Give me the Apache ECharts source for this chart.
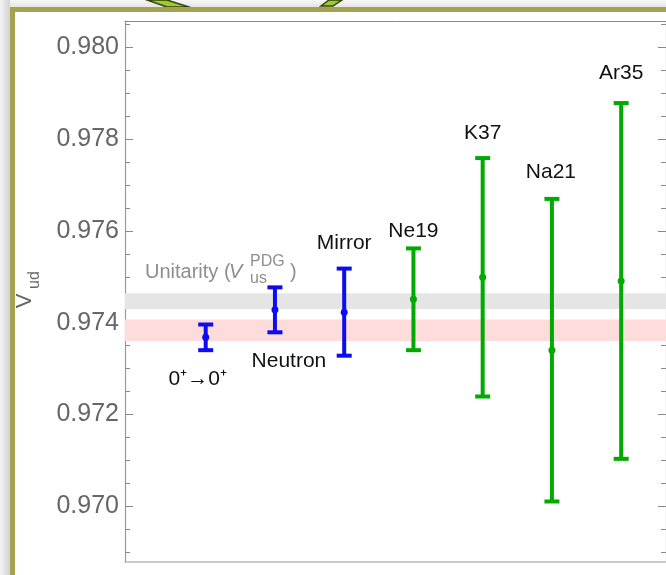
<!DOCTYPE html>
<html><head><meta charset="utf-8">
<script src="https://cdn.jsdelivr.net/npm/echarts@6/dist/echarts.min.js"></script>
<style>html,body{margin:0;padding:0;background:#fff;}#chart{width:666px;height:575px;}</style>
</head><body><div id="chart"></div>
<script>
// ---- data ----
const categories = ['0\u207A\u21920\u207A', 'Neutron', 'Mirror', 'Ne19', 'K37', 'Na21', 'Ar35'];
const vudCentral = [0.97368, 0.97428, 0.97423, 0.97451, 0.97499, 0.97340, 0.97491];
const vudError   = [0.00028, 0.00049, 0.00095, 0.00111, 0.00260, 0.00330, 0.00388];
const groupKind  = ['main', 'main', 'main', 'mirror', 'mirror', 'mirror', 'mirror'];
const unitarityBand   = [0.97430, 0.97464];
const superallowedBand = [0.97360, 0.97407];
const majorTicks = [0.970, 0.972, 0.974, 0.976, 0.978, 0.980];
const minorTicks = [0.969, 0.9695, 0.9705, 0.971, 0.9715, 0.9725, 0.973, 0.9735, 0.9745, 0.975, 0.9755,
                    0.9765, 0.977, 0.9775, 0.9785, 0.979, 0.9795, 0.9805];

// ---- layout / style ----
const FONT = '"Liberation Sans", Arial, Helvetica, sans-serif';
const YMIN = 0.96878, YMAX = 0.98058;
const XMIN = -0.1655, XMAX = 7.6475;
const kindColor = { main: '#0c0cf2', mirror: '#00aa00' };
// label offsets [dx, dy, anchor] relative to whisker end
const labelOffsets = [[-8, 29, 'bottom'], [14, 29, 'bottom'], [0, -25, 'top'], [0, -17, 'top'],
                      [0, -25, 'top'], [-1, -27, 'top'], [0, -30, 'top']];

const chart = echarts.init(document.getElementById('chart'), null, { renderer: 'canvas' });

function renderErrorBar(params, api) {
  const i = params.dataIndex;
  const x = api.value(0), c = api.value(1), e = api.value(2);
  const pTop = api.coord([x, c + e]);
  const pBot = api.coord([x, c - e]);
  const pMid = api.coord([x, c]);
  const color = kindColor[groupKind[i]];
  const capHalf = 7.5;
  const off = labelOffsets[i];
  const anchor = off[2] === 'bottom' ? pBot : pTop;
  return {
    type: 'group',
    children: [
      { type: 'line', shape: { x1: pTop[0], y1: pTop[1], x2: pBot[0], y2: pBot[1] }, style: { stroke: color, lineWidth: 4 } },
      { type: 'line', shape: { x1: pTop[0] - capHalf, y1: pTop[1], x2: pTop[0] + capHalf, y2: pTop[1] }, style: { stroke: color, lineWidth: 4 } },
      { type: 'line', shape: { x1: pBot[0] - capHalf, y1: pBot[1], x2: pBot[0] + capHalf, y2: pBot[1] }, style: { stroke: color, lineWidth: 4 } },
      { type: 'circle', shape: { cx: pMid[0], cy: pMid[1], r: 3.5 }, style: { fill: color } },
      { type: 'text', x: anchor[0] + off[0], y: anchor[1] + off[1],
        style: { text: categories[i], font: '21px ' + FONT, fill: '#111', align: 'center', verticalAlign: 'middle' } }
    ]
  };
}

function renderBand(params, api) {
  const cs = params.coordSys;
  const lo = api.value(0), hi = api.value(1);
  const pHi = api.coord([XMIN, hi]);
  const pLo = api.coord([XMIN, lo]);
  const fills = ['#e5e5e5', '#ffdcdc'];
  return { type: 'rect', shape: { x: cs.x, y: pHi[1], width: cs.width, height: pLo[1] - pHi[1] },
           style: { fill: fills[params.dataIndex] } };
}

function yAxisDef(position, values, len, withLabel, withLine) {
  return {
    type: 'value', min: YMIN, max: YMAX, position: position,
    axisLine: { show: withLine, onZero: false, lineStyle: { color: '#999', width: 1.2 } },
    axisTick: { show: true, inside: true, length: len, customValues: values, lineStyle: { color: '#888', width: 1 } },
    axisLabel: withLabel ? { show: true, customValues: values, formatter: v => v.toFixed(3),
                             fontSize: 25, color: '#666', margin: 6, fontFamily: FONT } : { show: false },
    splitLine: { show: false }
  };
}

const grayText = '#8e8e8e';
const option = {
  animation: false,
  backgroundColor: '#fff',
  grid: { left: 125, top: 21, width: 543, height: 541, containLabel: false },
  xAxis: [
    { type: 'value', min: XMIN, max: XMAX, position: 'bottom',
      axisLine: { show: true, onZero: false, lineStyle: { color: '#bbb', width: 1.5 } },
      axisTick: { show: false }, axisLabel: { show: false }, splitLine: { show: false } },
    { type: 'value', min: XMIN, max: XMAX, position: 'top',
      axisLine: { show: true, onZero: false, lineStyle: { color: '#888', width: 1 } },
      axisTick: { show: false }, axisLabel: { show: false }, splitLine: { show: false } }
  ],
  yAxis: [
    yAxisDef('left', majorTicks, 8, true, true),
    yAxisDef('left', minorTicks, 5, false, false),
    yAxisDef('right', majorTicks, 8, false, true),
    yAxisDef('right', minorTicks, 5, false, false)
  ],
  series: [
    { type: 'custom', name: 'bands', xAxisIndex: 0, yAxisIndex: 0, z: 1, silent: true,
      renderItem: renderBand, data: [unitarityBand, superallowedBand], clip: true },
    { type: 'custom', name: 'Vud', xAxisIndex: 0, yAxisIndex: 0, z: 5,
      renderItem: renderErrorBar, clip: false,
      data: vudCentral.map((c, i) => [i + 1, c, vudError[i]]) }
  ],
  graphic: [
    // slide background edges
    { type: 'rect', shape: { x: 0, y: 0, width: 666, height: 7 },
      style: { fill: new echarts.graphic.LinearGradient(0, 0, 0, 1, [{ offset: 0, color: '#f7f7f7' }, { offset: 1, color: '#e4e4e4' }]) } },
    { type: 'rect', shape: { x: 0, y: 0, width: 10, height: 575 },
      style: { fill: new echarts.graphic.LinearGradient(0, 0, 1, 0, [{ offset: 0, color: '#f4f4f4' }, { offset: 1, color: '#d2d2d2' }]) } },
    // visible pieces of the green ring decoration behind the panel
    { type: 'polygon', shape: { points: [[147, 0], [167, 0], [189, 7], [167, 7]] },
      style: { fill: '#9dcb2c', stroke: '#34420e', lineWidth: 1.5 } },
    { type: 'polygon', shape: { points: [[329, 0], [342, 0], [333, 6], [321, 6]] },
      style: { fill: '#9dcb2c', stroke: '#34420e', lineWidth: 1.5 } },
    // olive frame
    { type: 'rect', shape: { x: 10, y: 7, width: 656, height: 5 }, style: { fill: '#a6a350' } },
    { type: 'rect', shape: { x: 10, y: 7, width: 5, height: 568 }, style: { fill: '#a6a350' } },
    // y-axis name V_ud (rotated)
    { type: 'text', x: 25, y: 301, rotation: Math.PI / 2,
      style: { text: 'V', font: '22px ' + FONT, fill: '#666', align: 'center', verticalAlign: 'middle' } },
    { type: 'text', x: 35, y: 280, rotation: Math.PI / 2,
      style: { text: 'ud', font: '16px ' + FONT, fill: '#666', align: 'center', verticalAlign: 'middle' } },
    // Unitarity (V_us^PDG) label
    { type: 'text', x: 145, y: 272,
      style: { text: 'Unitarity (', font: '20px ' + FONT, fill: grayText, align: 'left', verticalAlign: 'middle' } },
    { type: 'text', x: 229, y: 272,
      style: { text: 'V', font: 'italic 20px ' + FONT, fill: grayText, align: 'left', verticalAlign: 'middle' } },
    { type: 'text', x: 250, y: 262,
      style: { text: 'PDG', font: '16px ' + FONT, fill: grayText, align: 'left', verticalAlign: 'middle' } },
    { type: 'text', x: 250, y: 279,
      style: { text: 'us', font: '16px ' + FONT, fill: grayText, align: 'left', verticalAlign: 'middle' } },
    { type: 'text', x: 290, y: 272,
      style: { text: ')', font: '20px ' + FONT, fill: grayText, align: 'left', verticalAlign: 'middle' } }
  ]
};
chart.setOption(option);
</script>
</body></html>
